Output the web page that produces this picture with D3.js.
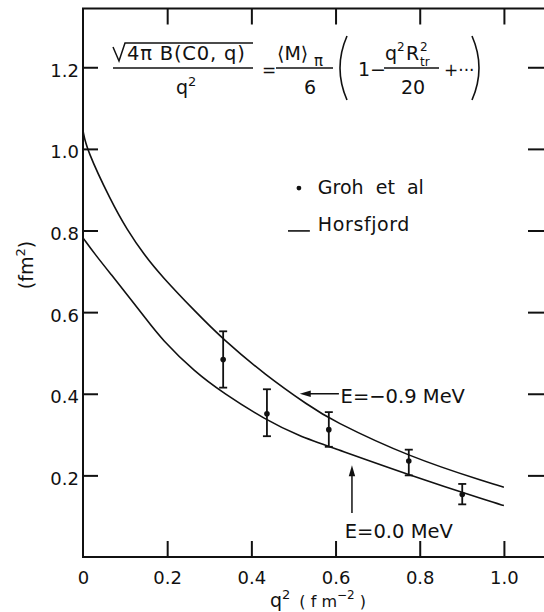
<!DOCTYPE html>
<html>
<head>
<meta charset="utf-8">
<script src="https://cdn.jsdelivr.net/npm/d3@7"></script>
<style>
  body { margin: 0; background: #fff; }
  svg { display: block; }
  text { font-family: "DejaVu Sans", sans-serif; fill: #111; }
</style>
</head>
<body>
<div id="chart"></div>
<script>
// ---- values ----
const xTickValues = [0, 0.2, 0.4, 0.6, 0.8, 1.0];
const xTickLabels = ['0', '0.2', '0.4', '0.6', '0.8', '1.0'];
const yTickValues = [0.2, 0.4, 0.6, 0.8, 1.0, 1.2];
const yTickLabels = ['0.2', '0.4', '0.6', '0.8', '1.0', '1.2'];

// Groh et al data points with error bars
const grohQ2 = [0.333, 0.437, 0.584, 0.774, 0.901];
const grohVal = [0.484, 0.351, 0.312, 0.235, 0.153];
const grohLow = [0.415, 0.296, 0.270, 0.200, 0.129];
const grohHigh = [0.553, 0.411, 0.355, 0.263, 0.179];

// Horsfjord curves
const upperQ2 = [0, 0.008, 0.067, 0.104, 0.147, 0.187, 0.266, 0.333, 0.432, 0.539, 0.587, 0.777, 0.967, 1.0];
const upperVal = [1.045, 1.0, 0.871, 0.803, 0.738, 0.688, 0.602, 0.533, 0.447, 0.369, 0.337, 0.244, 0.181, 0.171];
const lowerQ2 = [0, 0.029, 0.067, 0.108, 0.147, 0.187, 0.266, 0.333, 0.432, 0.515, 0.587, 0.777, 0.967, 1.0];
const lowerVal = [0.782, 0.741, 0.692, 0.639, 0.587, 0.533, 0.453, 0.402, 0.337, 0.296, 0.270, 0.200, 0.136, 0.126];

const width = 544, height = 612;
const ink = '#111';

const svg = d3.select('#chart').append('svg')
    .attr('width', width)
    .attr('height', height);

const x = d3.scaleLinear().domain([0, 1.1]).range([83, 546]);
const y = d3.scaleLinear().domain([0, 1.344]).range([557, 8.5]);

// frame
svg.append('rect')
    .attr('x', x(0)).attr('y', y(1.344))
    .attr('width', x(1.1) - x(0)).attr('height', y(0) - y(1.344))
    .attr('fill', 'none').attr('stroke', ink).attr('stroke-width', 2);

function styleAxis(g) {
  g.select('.domain').remove();
  g.selectAll('.tick line').attr('stroke', ink).attr('stroke-width', 2);
  g.selectAll('.tick text').attr('fill', ink).style('font-size', '18px')
      .style('font-family', '"DejaVu Sans", sans-serif');
}

// bottom
svg.append('g')
    .attr('transform', `translate(0,${y(0)})`)
    .call(d3.axisBottom(x).tickValues(xTickValues).tickSize(-16).tickPadding(14)
        .tickFormat((d, i) => xTickLabels[i]))
    .call(styleAxis)
    .call(g => g.selectAll('.tick').filter(d => d === 0).select('line').remove());

// top (ticks only)
svg.append('g')
    .attr('transform', `translate(0,${y(1.344)})`)
    .call(d3.axisTop(x).tickValues(xTickValues.slice(1)).tickSize(-16).tickFormat(''))
    .call(styleAxis);

// left
svg.append('g')
    .attr('transform', `translate(${x(0)},0)`)
    .call(d3.axisLeft(y).tickValues(yTickValues).tickSize(-15).tickPadding(4)
        .tickFormat((d, i) => yTickLabels[i]))
    .call(styleAxis)
    .call(g => g.selectAll('.tick text').attr('dy', '0.5em'));

// right (ticks only)
svg.append('g')
    .attr('transform', `translate(${x(1.1)},0)`)
    .call(d3.axisRight(y).tickValues(yTickValues).tickSize(-18).tickFormat(''))
    .call(styleAxis);

// axis titles
const xt = svg.append('text').attr('x', 270).attr('y', 607).style('font-size', '19px');
xt.append('tspan').text('q');
xt.append('tspan').attr('dy', -8).style('font-size', '13px').text('2');
xt.append('tspan').attr('dy', 8).attr('dx', 9).style('font-size', '16px').text('( f m');
xt.append('tspan').attr('dy', -8).style('font-size', '12px').text('−2');
xt.append('tspan').attr('dy', 8).style('font-size', '16px').text(' )');

const yt = svg.append('text')
    .attr('transform', 'translate(33,265) rotate(-90)')
    .attr('text-anchor', 'middle')
    .style('font-size', '19px');
yt.append('tspan').text('(fm');
yt.append('tspan').attr('dy', -8).style('font-size', '13px').text('2');
yt.append('tspan').attr('dy', 8).text(')');

// curves
const line = d3.line()
    .x(d => x(d[0]))
    .y(d => y(d[1]))
    .curve(d3.curveBasis);

svg.append('path')
    .datum(upperQ2.map((q, i) => [q, upperVal[i]]))
    .attr('d', line).attr('fill', 'none').attr('stroke', ink).attr('stroke-width', 1.6);
svg.append('path')
    .datum(lowerQ2.map((q, i) => [q, lowerVal[i]]))
    .attr('d', line).attr('fill', 'none').attr('stroke', ink).attr('stroke-width', 1.6);

// data points
const pts = grohQ2.map((q, i) => ({ q: q, v: grohVal[i], lo: grohLow[i], hi: grohHigh[i] }));
const pg = svg.append('g').attr('stroke', ink).attr('stroke-width', 1.8);
pg.selectAll('line.bar').data(pts).enter().append('line')
    .attr('x1', d => x(d.q)).attr('x2', d => x(d.q))
    .attr('y1', d => y(d.lo)).attr('y2', d => y(d.hi));
pg.selectAll('line.cap-hi').data(pts).enter().append('line')
    .attr('x1', d => x(d.q) - 4).attr('x2', d => x(d.q) + 4)
    .attr('y1', d => y(d.hi)).attr('y2', d => y(d.hi));
pg.selectAll('line.cap-lo').data(pts).enter().append('line')
    .attr('x1', d => x(d.q) - 4).attr('x2', d => x(d.q) + 4)
    .attr('y1', d => y(d.lo)).attr('y2', d => y(d.lo));
svg.selectAll('circle.pt').data(pts).enter().append('circle')
    .attr('cx', d => x(d.q)).attr('cy', d => y(d.v)).attr('r', 2.8).attr('fill', ink);

// legend
svg.append('circle').attr('cx', x(0.513)).attr('cy', y(0.904)).attr('r', 2.4).attr('fill', ink);
svg.append('text').attr('x', x(0.558)).attr('y', y(0.889)).style('font-size', '19px')
    .attr('xml:space', 'preserve').text('Groh  et  al');
svg.append('line').attr('x1', x(0.487)).attr('x2', x(0.539)).attr('y1', y(0.799)).attr('y2', y(0.799))
    .attr('stroke', ink).attr('stroke-width', 1.6);
svg.append('text').attr('x', x(0.558)).attr('y', y(0.798)).style('font-size', '19px')
    .style('letter-spacing', '0.6px').text('Horsfjord');

// annotations
function arrowHead(tx, ty, dir) {
  // dir: 'left' or 'up'
  const p = dir === 'left'
    ? [[tx, ty], [tx + 11, ty - 3.2], [tx + 11, ty + 3.2]]
    : [[tx, ty], [tx - 3.2, ty + 11], [tx + 3.2, ty + 11]];
  svg.append('path').attr('d', 'M' + p.map(d => d.join(',')).join('L') + 'Z').attr('fill', ink);
}
const a1x = x(0.515), a1y = y(0.400);
svg.append('line').attr('x1', a1x + 8).attr('x2', x(0.608)).attr('y1', a1y).attr('y2', a1y)
    .attr('stroke', ink).attr('stroke-width', 1.5);
arrowHead(a1x, a1y, 'left');
svg.append('text').attr('x', x(0.612)).attr('y', y(0.377)).style('font-size', '19.5px')
    .text('E=−0.9 MeV');

const a2x = x(0.639), a2y = y(0.225);
svg.append('line').attr('x1', a2x).attr('x2', a2x).attr('y1', a2y + 8).attr('y2', y(0.108))
    .attr('stroke', ink).attr('stroke-width', 1.5);
arrowHead(a2x, a2y, 'up');
svg.append('text').attr('x', x(0.622)).attr('y', y(0.047)).style('font-size', '19.5px')
    .text('E=0.0 MeV');

// formula
const f = svg.append('g');
f.append('path').attr('d', 'M113,47 L119,61 L125,43 H253')
    .attr('fill', 'none').attr('stroke', ink).attr('stroke-width', 1.5);
f.append('text').attr('x', 127).attr('y', 60).style('font-size', '19.5px')
    .style('letter-spacing', '0.8px').text('4π B(C0, q)');
f.append('line').attr('x1', 113).attr('x2', 253).attr('y1', 68).attr('y2', 68)
    .attr('stroke', ink).attr('stroke-width', 1.4);
f.append('text').attr('x', 176).attr('y', 94).style('font-size', '19px').text('q');
f.append('text').attr('x', 188).attr('y', 86).style('font-size', '13px').text('2');

f.append('text').attr('x', 269).attr('y', 76).attr('text-anchor', 'middle').style('font-size', '17px').text('=');

f.append('text').attr('x', 277).attr('y', 60).style('font-size', '19px').text('⟨M⟩');
f.append('text').attr('x', 314).attr('y', 66).style('font-size', '15px').text('π');
f.append('line').attr('x1', 276).attr('x2', 333).attr('y1', 68).attr('y2', 68)
    .attr('stroke', ink).attr('stroke-width', 1.4);
f.append('text').attr('x', 310).attr('y', 94).attr('text-anchor', 'middle').style('font-size', '19px').text('6');

f.append('path').attr('d', 'M347,36 Q333,68 347,100')
    .attr('fill', 'none').attr('stroke', ink).attr('stroke-width', 1.6);
f.append('text').attr('x', 358).attr('y', 76).style('font-size', '19px').text('1−');

f.append('text').attr('x', 385).attr('y', 60).style('font-size', '19px').text('q');
f.append('text').attr('x', 397).attr('y', 51).style('font-size', '12px').text('2');
f.append('text').attr('x', 406).attr('y', 60).style('font-size', '19px').text('R');
f.append('text').attr('x', 420).attr('y', 51).style('font-size', '12px').text('2');
f.append('text').attr('x', 420).attr('y', 66).style('font-size', '12px').text('tr');
f.append('line').attr('x1', 384).attr('x2', 439).attr('y1', 68).attr('y2', 68)
    .attr('stroke', ink).attr('stroke-width', 1.4);
f.append('text').attr('x', 413).attr('y', 94).attr('text-anchor', 'middle').style('font-size', '19px').text('20');

f.append('text').attr('x', 444).attr('y', 76).style('font-size', '17px').text('+···');
f.append('path').attr('d', 'M472,36 Q486,68 472,100')
    .attr('fill', 'none').attr('stroke', ink).attr('stroke-width', 1.6);
</script>
</body>
</html>
